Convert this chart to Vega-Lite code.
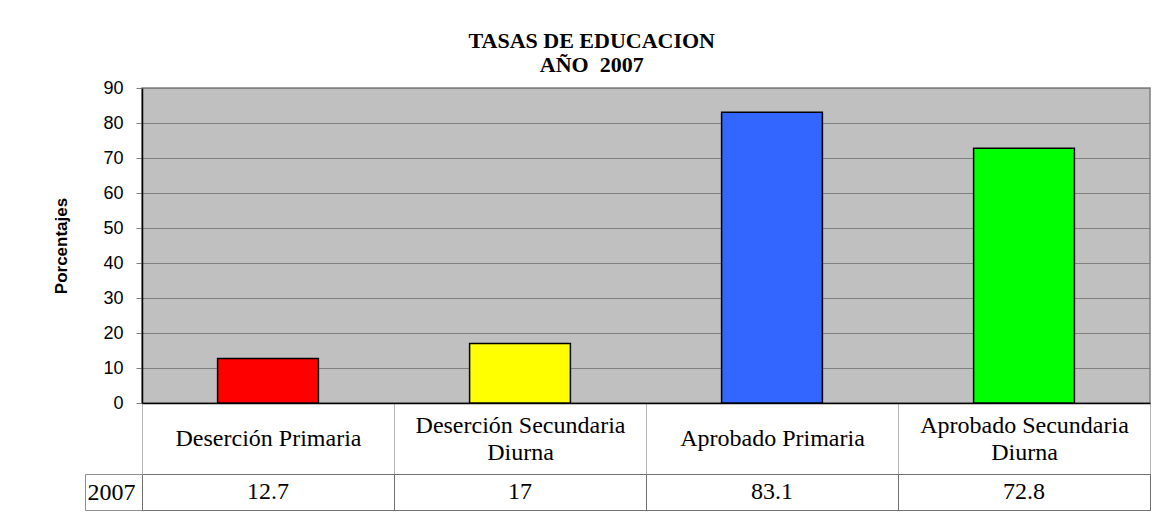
{
  "$schema": "https://vega.github.io/schema/vega-lite/v6.json",
  "background": "white",
  "padding": {"left": 52, "top": 30, "right": 10, "bottom": 5},
  "title": {
    "text": ["TASAS DE EDUCACION", "AÑO\u00a0 2007"],
    "font": "Liberation Serif",
    "fontSize": 22,
    "fontWeight": "bold",
    "color": "black",
    "lineHeight": 24,
    "anchor": "middle",
    "offset": 1,
    "dx": -10
  },
  "data": {
    "values": [
      {"categoria": "Deserción Primaria", "valor": 12.7, "anio": "2007"},
      {"categoria": "Deserción Secundaria Diurna", "valor": 17, "anio": "2007"},
      {"categoria": "Aprobado Primaria", "valor": 83.1, "anio": "2007"},
      {"categoria": "Aprobado Secundaria Diurna", "valor": 72.8, "anio": "2007"}
    ]
  },
  "bounds": "flush",
  "spacing": 71,
  "vconcat": [
    {
      "width": 1008,
      "height": 315,
      "view": {"fill": "#C0C0C0", "stroke": "#808080", "strokeWidth": 1.5},
      "mark": {"type": "bar", "width": {"band": 0.4}, "stroke": "black", "strokeWidth": 1.5},
      "encoding": {
        "x": {
          "field": "categoria",
          "type": "nominal",
          "sort": null,
          "scale": {"paddingInner": 0, "paddingOuter": 0},
          "axis": {
            "title": null,
            "domainColor": "black",
            "domainWidth": 1.5,
            "ticks": true,
            "tickBand": "extent",
            "tickSize": 71,
            "tickColor": "#b4b4b4",
            "tickWidth": 1,
            "labelAngle": 0,
            "labelFont": "Liberation Serif",
            "labelFontSize": 24,
            "labelColor": "black",
            "labelBaseline": "middle",
            "labelPadding": {"condition": {"test": "length(datum.label) > 20", "value": -48.5}, "value": -35.5},
            "labelLineHeight": 27,
            "labelLimit": 0,
            "labelExpr": "length(datum.label) > 20 ? [slice(datum.label, 0, lastindexof(datum.label, ' ')), slice(datum.label, lastindexof(datum.label, ' ') + 1)] : datum.label"
          }
        },
        "y": {
          "field": "valor",
          "type": "quantitative",
          "scale": {"domain": [0, 90], "nice": false},
          "axis": {
            "values": [0, 10, 20, 30, 40, 50, 60, 70, 80, 90],
            "title": "Porcentajes",
            "titleFont": "Liberation Sans",
            "titleFontSize": 17,
            "titleFontWeight": "bold",
            "titleColor": "black",
            "titlePadding": 32,
            "labelFont": "Liberation Sans",
            "labelFontSize": 18,
            "labelColor": "black",
            "labelPadding": 13,
            "tickSize": 6,
            "tickColor": "#808080",
            "domainColor": "black",
            "domainWidth": 1.5,
            "grid": true,
            "gridColor": "#808080",
            "gridWidth": 1
          }
        },
        "color": {
          "field": "categoria",
          "type": "nominal",
          "sort": null,
          "scale": {"range": ["#FF0000", "#FFFF00", "#3366FF", "#00FF00"]},
          "legend": null
        }
      }
    },
    {
      "width": 1008,
      "height": 36,
      "view": {"fill": "white", "stroke": "#707070", "strokeWidth": 1},
      "mark": {"type": "text", "font": "Liberation Serif", "fontSize": 24, "color": "black", "baseline": "middle"},
      "encoding": {
        "x": {
          "field": "categoria",
          "type": "nominal",
          "sort": null,
          "scale": {"paddingInner": 0, "paddingOuter": 0},
          "axis": {
            "title": null,
            "labels": false,
            "ticks": false,
            "domain": false,
            "grid": true,
            "tickBand": "extent",
            "gridColor": "#707070",
            "gridWidth": 1
          }
        },
        "y": {
          "field": "anio",
          "type": "nominal",
          "scale": {"paddingInner": 0, "paddingOuter": 0},
          "axis": {
            "title": null,
            "offset": 57,
            "domainColor": "#909090",
            "ticks": true,
            "tickBand": "extent",
            "tickSize": -57,
            "tickColor": "#909090",
            "labelFont": "Liberation Serif",
            "labelFontSize": 24,
            "labelColor": "black",
            "labelAlign": "left",
            "labelBaseline": "middle",
            "labelPadding": 55
          }
        },
        "text": {"field": "valor", "type": "quantitative"}
      }
    }
  ]
}
